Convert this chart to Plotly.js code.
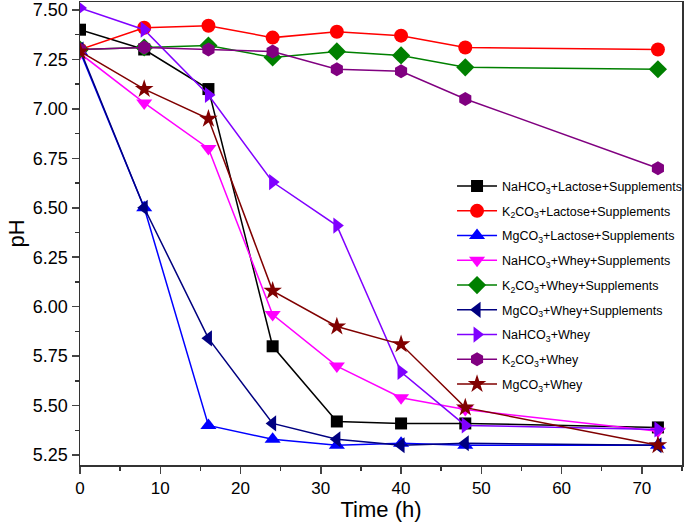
<!DOCTYPE html>
<html><head><meta charset="utf-8">
<script src="https://cdn.plot.ly/plotly-3.0.1.min.js"></script>
<style>body{margin:0;padding:0;background:#fff}#chart{width:685px;height:522px}</style>
</head><body><div id="chart"></div>
<script>
const time = [0, 8, 16, 24, 32, 40, 48, 72];
const seriesNames = [
  "NaHCO<sub>3</sub>+Lactose+Supplements",
  "K<sub>2</sub>CO<sub>3</sub>+Lactose+Supplements",
  "MgCO<sub>3</sub>+Lactose+Supplements",
  "NaHCO<sub>3</sub>+Whey+Supplements",
  "K<sub>2</sub>CO<sub>3</sub>+Whey+Supplements",
  "MgCO<sub>3</sub>+Whey+Supplements",
  "NaHCO<sub>3</sub>+Whey",
  "K<sub>2</sub>CO<sub>3</sub>+Whey",
  "MgCO<sub>3</sub>+Whey"
];
const naLacSup = [7.40, 7.30, 7.10, 5.80, 5.42, 5.41, 5.41, 5.39];
const kLacSup  = [7.30, 7.41, 7.42, 7.36, 7.39, 7.37, 7.31, 7.30];
const mgLacSup = [7.29, 6.50, 5.40, 5.33, 5.30, 5.31, 5.30, 5.30];
const naWheySup = [7.28, 7.03, 6.80, 5.96, 5.70, 5.54, 5.48, 5.37];
const kWheySup  = [7.30, 7.31, 7.32, 7.26, 7.29, 7.27, 7.21, 7.20];
const mgWheySup = [7.30, 6.50, 5.84, 5.41, 5.33, 5.30, 5.31, 5.30];
const naWhey = [7.51, 7.40, 7.07, 6.63, 6.41, 5.67, 5.40, 5.38];
const kWhey  = [7.30, 7.31, 7.30, 7.29, 7.20, 7.19, 7.05, 6.70];
const mgWhey = [7.29, 7.10, 6.95, 6.08, 5.90, 5.81, 5.49, 5.30];
const allSeries = [naLacSup, kLacSup, mgLacSup, naWheySup, kWheySup, mgWheySup, naWhey, kWhey, mgWhey];
const colors = ["#000000", "#ff0000", "#0000ff", "#ff00ff", "#008000", "#000080", "#8000ff", "#800080", "#800000"];
const symbols = ["square", "circle", "triangle-up", "triangle-down", "diamond", "triangle-left", "triangle-right", "hexagon", "star"];
const sizes = [12, 14, 14, 14, 14, 14, 14, 14, 14];

const traces = allSeries.map((ys, i) => ({
  x: time, y: ys, name: seriesNames[i], type: "scatter", mode: "lines+markers",
  legendgroup: "g" + i,
  line: {color: colors[i], width: 1.5},
  marker: {symbol: symbols[i], size: sizes[i], color: colors[i], line: {width: 0}}
}));

const layout = {
  width: 685, height: 522,
  margin: {l: 80, r: 3, t: 2, b: 57, autoexpand: false},
  paper_bgcolor: "#fff", plot_bgcolor: "#fff",
  font: {family: "Liberation Sans, Arial, sans-serif", color: "#000"},
  showlegend: true,
  legend: {x: 0.618, y: 0.634, xanchor: "left", yanchor: "top", bgcolor: "rgba(0,0,0,0)",
           font: {size: 12.5, color: "#000"}, tracegroupgap: 5.5, itemwidth: 40},
  xaxis: {
    range: [0, 75], tickvals: [0, 10, 20, 30, 40, 50, 60, 70], ticks: "outside", ticklen: 7, tickwidth: 1.5,
    showline: true, linecolor: "#333", linewidth: 1.5, mirror: true, showgrid: false, zeroline: false,
    tickfont: {size: 17}, title: {text: "Time (h)", font: {size: 22}, standoff: 1},
    minor: {dtick: 5, tick0: 0, ticks: "outside", ticklen: 4, tickwidth: 1.5, tickcolor: "#333"}
  },
  yaxis: {
    range: [5.2, 7.54], tick0: 5.25, dtick: 0.25, tickformat: ".2f", ticks: "outside", ticklen: 7, tickwidth: 1.5,
    showline: true, linecolor: "#333", linewidth: 1.5, mirror: true, showgrid: false, zeroline: false,
    tickfont: {size: 18}, title: {text: "pH", font: {size: 22}, standoff: 2},
    minor: {dtick: 0.125, tick0: 5.25, ticks: "outside", ticklen: 4, tickwidth: 1.5, tickcolor: "#333"}
  }
};
Plotly.newPlot("chart", traces, layout, {displayModeBar: false, staticPlot: true});
</script></body></html>
